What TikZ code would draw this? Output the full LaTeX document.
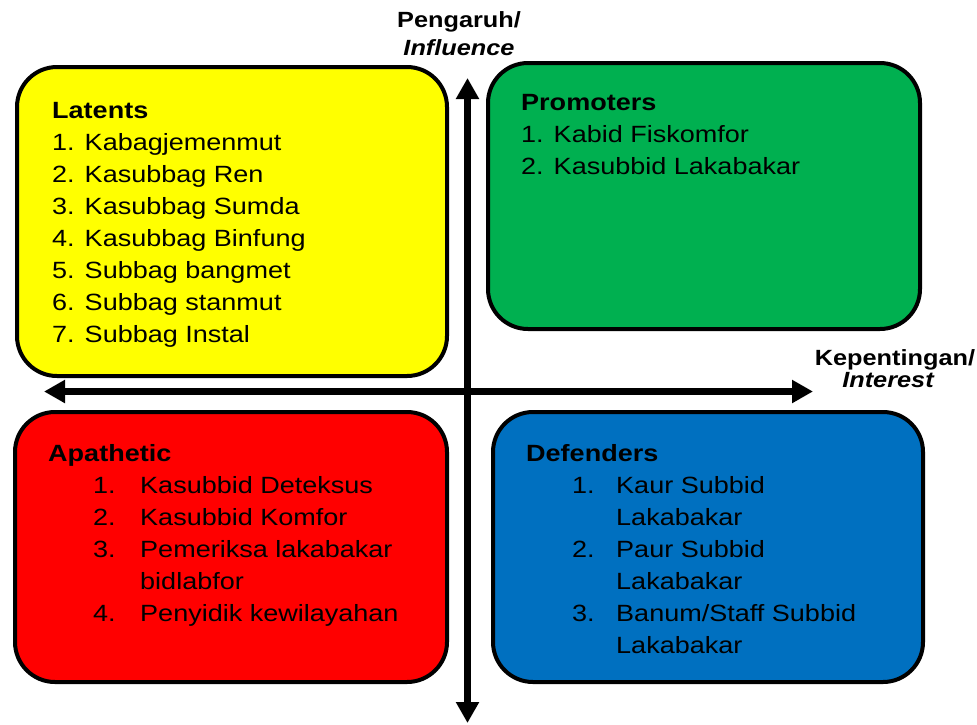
\documentclass[tikz,border=0pt]{standalone}
\usepackage{fontspec}
\setmainfont{Liberation Sans}[FakeStretch=1.15]
\usetikzlibrary{arrows.meta}
\definecolor{latentY}{HTML}{FFFF00}
\definecolor{promoG}{HTML}{00B050}
\definecolor{apathR}{HTML}{FF0000}
\definecolor{defendB}{HTML}{0070C0}
\begin{document}
\begin{tikzpicture}[x=1pt,y=-1pt,
  quad/.style={draw=black,line width=4pt,rounded corners=40pt},
  head/.style={anchor=base west,inner sep=0pt,font=\fontsize{23.5}{28}\selectfont\bfseries},
  entry/.style={anchor=base west,inner sep=0pt,font=\fontsize{23.5}{28}\selectfont},
  axislabel/.style={anchor=base,inner sep=0pt,font=\fontsize{22}{26}\selectfont\bfseries},
  axis/.style={line width=7pt,{Triangle[length=21pt,width=22pt]}-{Triangle[length=21pt,width=22pt]}}]

% canvas
\path[use as bounding box,fill=white] (0,0) rectangle (977,724);

% quadrants
\draw[quad,fill=latentY] (17,67) rectangle (447,376);
\draw[quad,fill=promoG] (488,63) rectangle (920,329);
\draw[quad,fill=apathR] (15,412) rectangle (447,682);
\draw[quad,fill=defendB] (493,412) rectangle (923,682);

% axes
\coordinate (vtop) at (467.5,78);
\coordinate (vbot) at (467.5,723);
\coordinate (hleft) at (44,391.5);
\coordinate (hright) at (813,391.5);
\draw[axis] (vtop) -- (vbot);
\draw[axis] (hleft) -- (hright);

% axis labels
\node[axislabel] (infl1) at (459,27) {Pengaruh/};
\node[axislabel] (infl2) at (459,55) {\itshape Influence};
\node[axislabel] (intr1) at (895,365) {Kepentingan/};
\node[axislabel] (intr2) at (888,387) {\itshape Interest};

% Latents
\node[head] (latT) at (52,118) {Latents};
\foreach \t [count=\i] in {Kabagjemenmut, Kasubbag Ren, Kasubbag Sumda, Kasubbag Binfung, Subbag bangmet, Subbag stanmut, Subbag Instal}
  \node[entry] (lat\i) at (52,{118+32*\i}) {\i. \t};

% Promoters
\node[head] (proT) at (521,110) {Promoters};
\node[entry] (pro1) at (521,142) {1. Kabid Fiskomfor};
\node[entry] (pro2) at (521,174) {2. Kasubbid Lakabakar};

% Apathetic
\node[head] (apaT) at (48,461) {Apathetic};
\node[entry] (apaN1) at (93,493) {1.};
\node[entry] (apa1) at (140,493) {Kasubbid Deteksus};
\node[entry] (apaN2) at (93,525) {2.};
\node[entry] (apa2) at (140,525) {Kasubbid Komfor};
\node[entry] (apaN3) at (93,557) {3.};
\node[entry] (apa3) at (140,557) {Pemeriksa lakabakar};
\node[entry] (apa3b) at (140,589) {bidlabfor};
\node[entry] (apaN4) at (93,621) {4.};
\node[entry] (apa4) at (140,621) {Penyidik kewilayahan};

% Defenders
\node[head] (defT) at (526,461) {Defenders};
\node[entry] (defN1) at (572,493) {1.};
\node[entry] (def1) at (616,493) {Kaur Subbid};
\node[entry] (def1b) at (616,525) {Lakabakar};
\node[entry] (defN2) at (572,557) {2.};
\node[entry] (def2) at (616,557) {Paur Subbid};
\node[entry] (def2b) at (616,589) {Lakabakar};
\node[entry] (defN3) at (572,621) {3.};
\node[entry] (def3) at (616,621) {Banum/Staff Subbid};
\node[entry] (def3b) at (616,653) {Lakabakar};
\end{tikzpicture}
\end{document}
